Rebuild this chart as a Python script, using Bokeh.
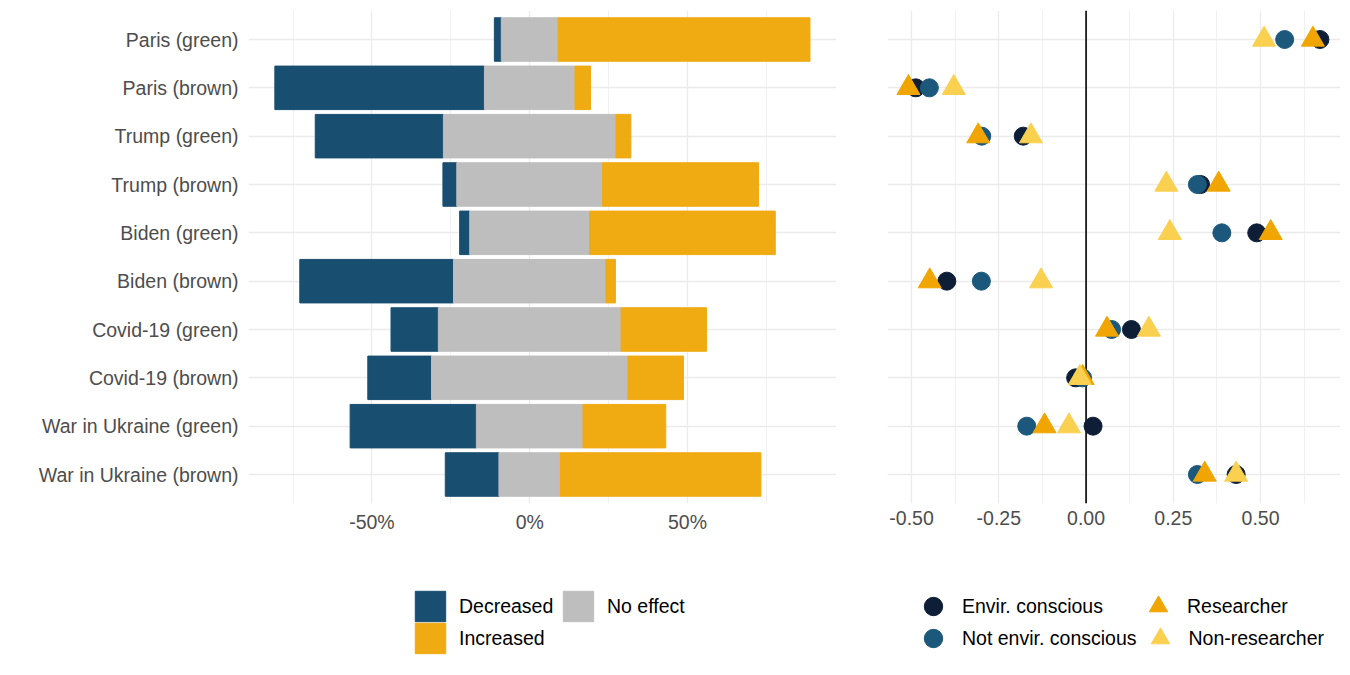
import numpy as np
from bokeh.plotting import figure
from bokeh.layouts import row, column
from bokeh.models import (ColumnDataSource, FactorRange, Range1d, FixedTicker,
                          PrintfTickFormatter, Span, Legend, LegendItem)
from bokeh.embed import file_html
from bokeh.resources import INLINE

# categories, top to bottom
events = ["Paris (green)", "Paris (brown)", "Trump (green)", "Trump (brown)",
          "Biden (green)", "Biden (brown)", "Covid-19 (green)", "Covid-19 (brown)",
          "War in Ukraine (green)", "War in Ukraine (brown)"]

# share of answers, in %
decreased = [2.2, 66.4, 40.6, 4.4, 3.2, 48.7, 15.0, 20.2, 40.0, 17.0]
no_effect = [18.0, 28.7, 54.7, 46.2, 38.0, 48.3, 57.9, 62.2, 33.8, 19.5]
increased = [79.8, 4.9, 4.7, 49.4, 58.8, 3.0, 27.1, 17.6, 26.2, 63.5]

# mean effect per group
envir = [0.670, -0.488, -0.180, 0.328, 0.489, -0.399, 0.130, -0.030, 0.020, 0.430]
not_envir = [0.569, -0.449, -0.299, 0.319, 0.389, -0.300, 0.073, -0.010, -0.170, 0.319]
researcher = [0.650, -0.509, -0.309, 0.380, 0.529, -0.448, 0.060, -0.010, -0.119, 0.340]
non_researcher = [0.510, -0.379, -0.158, 0.230, 0.240, -0.129, 0.180, -0.018, -0.049, 0.430]

FONT = "Liberation Sans"
FS = "19.5px"
GRID = "#EBEBEB"

C_DEC, C_NE, C_INC = "#184E70", "#BEBEBE", "#F0AA12"
C_ENV, C_NOT, C_RES, C_NON = "#0E1E36", "#1B587C", "#F0A500", "#F9D04F"

factors = list(reversed(events))


def style(p):
    p.outline_line_color = None
    p.background_fill_color = "white"
    p.border_fill_color = "white"
    for ax in (p.xaxis[0], p.yaxis[0]):
        ax.axis_line_color = None
        ax.major_tick_line_color = None
        ax.minor_tick_line_color = None
        ax.major_tick_out = 0
        ax.major_tick_in = 0
        ax.major_label_text_font = FONT
        ax.major_label_text_font_size = FS
        ax.major_label_text_color = "#4D4D4D"
    p.xaxis.major_label_standoff = 3
    p.yaxis.major_label_standoff = 10
    p.xgrid.grid_line_color = GRID
    p.xgrid.grid_line_width = 1.3
    p.xgrid.minor_grid_line_color = GRID
    p.xgrid.minor_grid_line_width = 0.7
    p.ygrid.grid_line_color = GRID
    p.ygrid.grid_line_width = 1.3


def legend_figure(width):
    # empty strip under a panel that only holds its legend
    lf = figure(width=width, height=122, output_backend="svg", toolbar_location=None,
                x_axis_location=None, y_axis_location=None, min_border=0,
                x_range=Range1d(0, 1), y_range=Range1d(0, 1))
    lf.outline_line_color = None
    lf.grid.visible = False
    return lf


def make_legend(items, loc, glyph, standoff, label_width):
    lg = Legend(items=items, location=loc, orientation="horizontal", ncols=2,
                glyph_width=glyph, glyph_height=glyph, spacing=0,
                label_standoff=standoff, label_width=label_width,
                label_text_font=FONT, label_text_font_size=FS,
                label_text_color="black", label_text_baseline="middle",
                padding=0, margin=0, border_line_color=None,
                background_fill_alpha=0)
    return lg


# ---- left panel: diverging stacked bars
dec = np.array(decreased)
ne = np.array(no_effect)
inc = np.array(increased)
src = ColumnDataSource(dict(event=events,
                            dec_l=-ne / 2 - dec, dec_r=-ne / 2,
                            ne_l=-ne / 2, ne_r=ne / 2,
                            inc_l=ne / 2, inc_r=ne / 2 + inc))

p1 = figure(width=858, height=545, output_backend="svg", toolbar_location=None,
            y_range=FactorRange(factors=factors, range_padding=0.1,
                                range_padding_units="absolute"),
            x_range=Range1d(-89.1, 97.2),
            min_border_left=248, min_border_right=22, min_border_top=10,
            min_border_bottom=42)
style(p1)
p1.xaxis.ticker = FixedTicker(ticks=[-50, 0, 50], minor_ticks=[-75, -25, 25, 75])
p1.xaxis.formatter = PrintfTickFormatter(format="%d%%")

bar_kw = dict(y="event", height=0.9, source=src)
p1.hbar(left="dec_l", right="dec_r", fill_color=C_DEC, line_color=C_DEC, **bar_kw)
p1.hbar(left="ne_l", right="ne_r", fill_color=C_NE, line_color=C_NE, **bar_kw)
p1.hbar(left="inc_l", right="inc_r", fill_color=C_INC, line_color=C_INC, **bar_kw)

# legend keys: one bar each, kept outside the visible range
l1 = legend_figure(858)
key = dict(y=[-1], left=[0], right=[1], height=0.9)
k_dec = l1.hbar(fill_color=C_DEC, line_color=C_DEC, **key)
k_ne = l1.hbar(fill_color=C_NE, line_color=C_NE, **key)
k_inc = l1.hbar(fill_color=C_INC, line_color=C_INC, **key)
# one legend per row so the rows can sit closer than the key size
l1.add_layout(make_legend([LegendItem(label="Decreased", renderers=[k_dec]),
                           LegendItem(label="No effect", renderers=[k_ne])],
                          (411, 42), 38, 10, 100))
l1.add_layout(make_legend([LegendItem(label="Increased", renderers=[k_inc])],
                          (411, 10), 38, 10, 100))

# ---- right panel: dot plot of group means
src2 = ColumnDataSource(dict(event=events, envir=envir, not_envir=not_envir,
                             researcher=researcher, non_researcher=non_researcher))

p2 = figure(width=484, height=545, output_backend="svg", toolbar_location=None,
            y_range=FactorRange(factors=factors, range_padding=0.1,
                                range_padding_units="absolute"),
            x_range=Range1d(-0.569, 0.729),
            min_border_left=29, min_border_right=2, min_border_top=10,
            min_border_bottom=42)
style(p2)
p2.yaxis.visible = False
p2.xaxis.ticker = FixedTicker(ticks=[-0.5, -0.25, 0, 0.25, 0.5],
                              minor_ticks=[-0.375, -0.125, 0.125, 0.375, 0.625])
p2.xaxis.formatter = PrintfTickFormatter(format="%.2f")

p2.add_layout(Span(location=0, dimension="height", line_color="black",
                   line_width=1.6, level="underlay"))

p2.scatter("envir", "event", source=src2, marker="circle", size=18,
           fill_color=C_ENV, line_color=C_ENV)
p2.scatter("not_envir", "event", source=src2, marker="circle", size=18,
           fill_color=C_NOT, line_color=C_NOT)
p2.scatter("researcher", "event", source=src2, marker="triangle", size=23,
           fill_color=C_RES, line_color=C_RES)
p2.scatter("non_researcher", "event", source=src2, marker="triangle", size=23,
           fill_color=C_NON, line_color=C_NON)

l2 = legend_figure(484)
mk = dict(x=[-1], y=[-1])
k_env = l2.scatter(marker="circle", fill_color=C_ENV, line_color=C_ENV, **mk)
k_not = l2.scatter(marker="circle", fill_color=C_NOT, line_color=C_NOT, **mk)
k_res = l2.scatter(marker="triangle", fill_color=C_RES, line_color=C_RES, **mk)
k_non = l2.scatter(marker="triangle", fill_color=C_NON, line_color=C_NON, **mk)
l2.add_layout(make_legend([LegendItem(label="Envir. conscious", renderers=[k_env]),
                           LegendItem(label="Researcher", renderers=[k_res])],
                          (52, 38), 46, 6, 173))
l2.add_layout(make_legend([LegendItem(label="Not envir. conscious", renderers=[k_not]),
                           LegendItem(label="Non-researcher", renderers=[k_non])],
                          (52, 6), 46, 6, 173))

layout = column(row(p1, p2), row(l1, l2))
open("out.html", "w").write(file_html(layout, INLINE))
